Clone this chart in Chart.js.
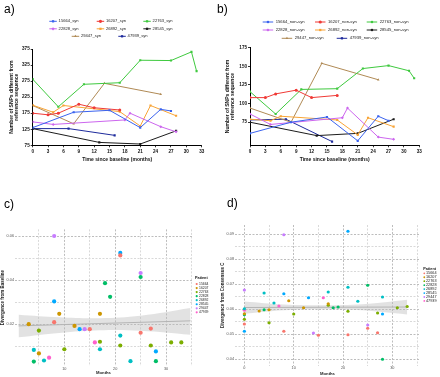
<!DOCTYPE html>
<html><head><meta charset="utf-8">
<script src="https://cdn.jsdelivr.net/npm/chart.js@4.4.1/dist/chart.umd.min.js"></script>
<style>
html,body{margin:0;padding:0;background:#fff;width:440px;height:377px;overflow:hidden;}
.p{position:absolute;}
.p canvas{display:block;}
.lab{position:absolute;font-family:"Liberation Sans",Arial,sans-serif;font-size:12px;line-height:12px;color:#000;}
</style></head>
<body>
<div class="p" style="left:0;top:0;width:220px;height:190px"><canvas id="ca" width="220" height="190" style="width:220px;height:190px"></canvas></div>
<div class="p" style="left:220px;top:0;width:220px;height:190px"><canvas id="cb" width="220" height="190" style="width:220px;height:190px"></canvas></div>
<div class="p" style="left:0;top:190px;width:220px;height:187px"><canvas id="cc" width="220" height="187" style="width:220px;height:187px"></canvas></div>
<div class="p" style="left:220px;top:190px;width:220px;height:187px"><canvas id="cd" width="220" height="187" style="width:220px;height:187px"></canvas></div>
<div class="lab" style="left:4px;top:3px">a)</div>
<div class="lab" style="left:217px;top:3px">b)</div>
<div class="lab" style="left:4px;top:198px">c)</div>
<div class="lab" style="left:227px;top:197px">d)</div>
<script>
const F = '"Liberation Sans", Arial, sans-serif';

// ---------------- data ----------------
const patients = ['15664','16207','22763','22828','26892','28545','29447','47939'];
const xTicksAB = [0,3,6,9,12,15,18,21,24,27,30,33];
const yTicksA = [75,125,175,225,275,325,375];
const yTicksB = [75,100,125,150,175];

// panel a: synonymous SNPs (months, counts)
const a15664m = [0,8,15,21,25,27],          a15664v = [130,178,184,130,187,182];
const a16207m = [0,3,5,9,12,17],            a16207v = [175,170,175,203,192,185];
const a22763m = [0,5,10,17,21,27,31,32],    a22763v = [281,195,265,270,340,339,366,306];
const a22828m = [0,4,18,19,25,28],          a22828v = [148,140,154,175,133,117];
const a26892m = [0,4,6,17,21,23,28],        a26892v = [200,178,199,180,135,199,167];
const a28545m = [0,13,21,28],               a28545v = [127,84,79,120];
const a29447m = [0,8,14,25],                a29447v = [199,142,268,234];
const a47939m = [0,7,16],                   a47939v = [127,127,106];

// panel b: non-synonymous SNPs
const b15664m = [0,8,15,21,25,27],          b15664v = [60,75,82,50,83,77];
const b16207m = [0,3,5,9,12,17],            b16207v = [108,108,113,118,108,111];
const b22763m = [0,5,10,17,22,27,31,32],    b22763v = [116,86,119,120,147,151,144,134];
const b22828m = [0,4,18,19,25,28],          b22828v = [86,72,81,94,55,52];
const b26892m = [0,4,6,17,21,23,28],        b26892v = [79,77,83,78,58,81,69];
const b28545m = [0,13,21,28],               b28545v = [75,57,60,79];
const b29447m = [0,8,14,25],                b29447v = [94,75,154,132];
const b47939m = [0,7,16],                   b47939v = [78,79,49];

// panel c: divergence from baseline
const c15664m = [8,15,21,25,27],        c15664v = [0.0209,0.0177,0.0512,0.0161,0.0180];
const c16207m = [3,5,9,12,17],          c16207v = [0.0200,0.0067,0.0247,0.0192,0.0247];
const c22763m = [5,10,17,21,27,31,33],  c22763v = [0.0171,0.0086,0.0120,0.0103,0.0103,0.0117,0.0117];
const c22828m = [4,18,19,25,28],        c22828v = [0.0030,0.0386,0.0324,0.0414,0.0032];
const c26892m = [4,6,17,21,23],         c26892v = [0.0083,0.0035,0.0086,0.0148,0.0032];
const c28545m = [8,13,21,28],           c28545v = [0.0303,0.0177,0.0523,0.0076];
const c29447m = [8,14,25],              c29447v = [0.0600,0.0177,0.0432];
const c47939m = [7,16],                 c47939v = [0.0048,0.0117];
const cFitX  = [1,34.8],                cFitY  = [0.0192,0.0215];
const cBandX = [1,9,17,25,34.8];
const cBandHi = [0.0243,0.0231,0.0227,0.0238,0.0273];
const cBandLo = [0.0140,0.0160,0.0172,0.0170,0.0152];

// panel d: divergence from consensus C
const d15664m = [0,8,15,21,25,27],        d15664v = [0.0540,0.0511,0.0495,0.0497,0.0523,0.0505];
const d16207m = [0,3,5,9,12,17],          d16207v = [0.0581,0.0592,0.0597,0.0633,0.0605,0.0621];
const d22763m = [0,5,10,17,21,27,31,33],  d22763v = [0.0559,0.0545,0.0580,0.0615,0.0591,0.0584,0.0605,0.0610];
const d22828m = [0,4,18,19,25,28],        d22828v = [0.0577,0.0597,0.0605,0.0608,0.0695,0.0399];
const d26892m = [0,4,6,17,21,23,28],      d26892v = [0.0601,0.0664,0.0624,0.0668,0.0687,0.0631,0.0648];
const d28545m = [0,8,13,21,28],           d28545v = [0.0511,0.0661,0.0645,0.0911,0.0580];
const d29447m = [0,8,14,25],              d29447v = [0.0676,0.0897,0.0504,0.0536];
const d47939m = [0,7,16],                 d47939v = [0.0595,0.0612,0.0645];
const dFitX  = [0,33],                    dFitY  = [0.0606,0.0608];
const dBandX = [0,8,16,24,33];
const dBandHi = [0.0630,0.0618,0.0615,0.0619,0.0637];
const dBandLo = [0.0581,0.0595,0.0599,0.0595,0.0578];

const cXTicks = [5,10,15,20,25,30,35],   cXMajor = [10,20,30];
const cYTicks = [0.01,0.02,0.03,0.04,0.05,0.06], cYMajor = [0.02,0.04,0.06];
const dXTicks = [0,5,10,15,20,25,30,35], dXMajor = [0,10,20,30];
const dYTicks = [0.04,0.045,0.05,0.055,0.06,0.065,0.07,0.075,0.08,0.085,0.09], dYMajor = [0.04,0.05,0.06,0.07,0.08,0.09];

// ---------------- styles ----------------
const abColors = ['#3b63ee','#f03a36','#3fc93f','#cc66ee','#f8a436','#1c1c1c','#b08a55','#1e2b9c'];
const abStyles = ['rect','circle','rect','rectRot','rect','rect','triangle','rect'];
const ggColors = ['#F8766D','#CD9600','#7CAE00','#00BE67','#00BFC4','#00A9FF','#C77CFF','#FF61CC'];

const pts = (m, v) => m.map((x, i) => ({x: x, y: v[i]}));

function lineSets(rows, suffix) {
  return rows.map((r, i) => ({
    label: patients[i] + suffix, data: pts(r[0], r[1]),
    borderColor: abColors[i], backgroundColor: abColors[i], borderWidth: 1,
    pointRadius: 1.5, pointStyle: abStyles[i], pointBorderWidth: 0, tension: 0, fill: false
  }));
}
function dotSets(rows, r) {
  return rows.map((row, i) => ({
    label: patients[i], data: pts(row[0], row[1]), showLine: false,
    pointRadius: r, pointBackgroundColor: ggColors[i], pointBorderWidth: 0, backgroundColor: ggColors[i], order: 0
  }));
}
function smoothSets(bx, lo, hi, fx, fy) {
  return [
    {label: 'lo', data: pts(bx, lo), showLine: true, borderWidth: 0, pointRadius: 0, tension: 0.4, fill: false, order: 10},
    {label: 'hi', data: pts(bx, hi), showLine: true, borderWidth: 0, pointRadius: 0, tension: 0.4, fill: '-1',
     backgroundColor: 'rgba(185,185,185,0.42)', order: 10},
    {label: 'fit', data: pts(fx, fy), showLine: true, borderColor: '#b4b4b4', borderWidth: 1, pointRadius: 0, fill: false, order: 5}
  ];
}

// legend drawn in the canvas for panels a and b
function lineLegend(pos, lw, gap, fs) {
  return { id: 'lineLegend', afterDraw(chart) {
    const ctx = chart.ctx; ctx.save();
    ctx.font = fs + 'px ' + F; ctx.textBaseline = 'middle'; ctx.textAlign = 'left';
    pos.forEach((p, i) => {
      const ds = chart.data.datasets[i];
      ctx.strokeStyle = ds.borderColor; ctx.fillStyle = ds.borderColor; ctx.lineWidth = 1;
      ctx.beginPath(); ctx.moveTo(p[0], p[1]); ctx.lineTo(p[0] + lw, p[1]); ctx.stroke();
      Chart.helpers.drawPoint(ctx, {pointStyle: ds.pointStyle, radius: 1.6, rotation: 0, borderWidth: 0}, p[0] + lw / 2, p[1]);
      ctx.fillStyle = '#222'; ctx.fillText(ds.label, p[0] + lw + gap, p[1]);
    });
    ctx.restore();
  }};
}
function dotLegend(o) {
  return { id: 'dotLegend', afterDraw(chart) {
    const ctx = chart.ctx; ctx.save();
    ctx.textBaseline = 'middle'; ctx.textAlign = 'left';
    ctx.fillStyle = '#111'; ctx.font = 'bold ' + o.tf + 'px ' + F;
    ctx.fillText('Patient', o.tx, o.ty);
    ctx.font = o.f + 'px ' + F;
    patients.forEach((p, i) => {
      const y = o.y0 + i * o.dy;
      ctx.fillStyle = ggColors[i]; ctx.beginPath(); ctx.arc(o.dx, y, o.r, 0, Math.PI * 2); ctx.fill();
      ctx.fillStyle = '#222'; ctx.fillText(p, o.lx, y);
    });
    ctx.restore();
  }};
}

function gpScales(o) {
  const tickFont = {family: F, size: 4.6, weight: 'bold'};
  return {
    x: { type: 'linear', min: 0, max: 33,
      afterBuildTicks: s => { s.ticks = xTicksAB.map(v => ({value: v})); },
      afterFit: s => { s.height = 20; },
      ticks: {font: tickFont, color: '#111', padding: 1.5, maxRotation: 0, autoSkip: false},
      grid: {drawOnChartArea: false, tickLength: 2, color: '#000', lineWidth: 0.8},
      border: {color: '#000', width: 1},
      title: {display: true, text: 'Time since baseline (months)', color: '#111',
        font: {family: F, size: 5, weight: 'bold', lineHeight: 1}, padding: {top: 0, bottom: o.xtb}} },
    y: { type: 'linear', min: o.ymin, max: o.ymax,
      afterBuildTicks: s => { s.ticks = o.yt.map(v => ({value: v})); },
      afterFit: s => { s.width = o.yw; },
      ticks: {font: tickFont, color: '#111', padding: 1, autoSkip: false},
      grid: {drawOnChartArea: false, tickLength: 2, color: '#000', lineWidth: 0.8},
      border: {color: '#000', width: 1},
      title: {display: true, text: ['Number of SNPs different from', 'reference sequence'], color: '#111',
        font: {family: F, size: 5, weight: 'bold', lineHeight: 1}, padding: {top: o.ytp, bottom: 0}} }
  };
}

function ggScales(o) {
  const gc = (maj) => (c) => (c.tick && maj.includes(c.tick.value)) ? '#bdbdbd' : '#d9d9d9';
  return {
    x: { type: 'linear', min: o.xmin, max: o.xmax,
      afterBuildTicks: s => { s.ticks = o.xt.map(v => ({value: v})); },
      afterFit: s => { s.height = o.xh; },
      ticks: {font: {family: F, size: 3.8}, color: '#555', padding: o.xtp, maxRotation: 0, autoSkip: false,
        callback: v => o.xm.includes(v) ? String(v) : ''},
      grid: {drawTicks: false, color: gc(o.xm), lineWidth: 1},
      border: {display: false, dash: [2, 1.5]},
      title: {display: true, text: 'Months', color: '#222', font: {family: F, size: 4.2, weight: 'bold', lineHeight: 1},
        padding: {top: 0, bottom: o.xtb}} },
    y: { type: 'linear', min: o.ymin, max: o.ymax,
      afterBuildTicks: s => { s.ticks = o.yt.map(v => ({value: v})); },
      afterFit: s => { s.width = 15; },
      ticks: {font: {family: F, size: 3.8}, color: '#555', padding: 1, autoSkip: false,
        callback: v => o.ym.includes(v) ? v.toFixed(2) : ''},
      grid: {drawTicks: false, color: gc(o.ym), lineWidth: 1},
      border: {display: false, dash: [2, 1.5]},
      title: {display: true, text: o.ytitle, color: '#222', font: {family: F, size: 4.5, weight: 'bold', lineHeight: 1},
        padding: {top: 1, bottom: 0}} }
  };
}

const base = {responsive: false, animation: false, devicePixelRatio: 1,
  plugins: {legend: {display: false}, tooltip: {enabled: false}}};

// ---- panel a ----
new Chart(document.getElementById('ca'), {
  type: 'line',
  data: {datasets: lineSets([[a15664m,a15664v],[a16207m,a16207v],[a22763m,a22763v],[a22828m,a22828v],
    [a26892m,a26892v],[a28545m,a28545v],[a29447m,a29447v],[a47939m,a47939v]], '_syn')},
  options: Object.assign({}, base, {
    layout: {padding: {left: 0, right: 18.3, top: 49, bottom: 24.7}},
    scales: gpScales({ymin: 75, ymax: 375, yt: yTicksA, yw: 32.7, ytp: 9.2, xtb: 2.8})
  }),
  plugins: [lineLegend([[49.3,21.3],[96.7,21.3],[143.3,21.3],[49.3,28.8],[96.7,28.8],[143.3,28.8],[71.7,36.3],[118.3,36.3]], 7.5, 1.8, 4.1)]
});

// ---- panel b ----
new Chart(document.getElementById('cb'), {
  type: 'line',
  data: {datasets: lineSets([[b15664m,b15664v],[b16207m,b16207v],[b22763m,b22763v],[b22828m,b22828v],
    [b26892m,b26892v],[b28545m,b28545v],[b29447m,b29447v],[b47939m,b47939v]], '_non-syn')},
  options: Object.assign({}, base, {
    layout: {padding: {left: 0, right: 20.7, top: 47.7, bottom: 24.7}},
    scales: gpScales({ymin: 44, ymax: 175, yt: yTicksB, yw: 30, ytp: 4.8, xtb: 3.5})
  }),
  plugins: [lineLegend([[42.7,22],[95,22],[146.7,22],[42.7,30],[95,30],[146.7,30],[61.7,38.3],[116.7,38.3]], 10.5, 2.5, 4.2)]
});

// ---- panel c ----
new Chart(document.getElementById('cc'), {
  type: 'line',
  data: {datasets: dotSets([[c15664m,c15664v],[c16207m,c16207v],[c22763m,c22763v],[c22828m,c22828v],
    [c26892m,c26892v],[c28545m,c28545v],[c29447m,c29447v],[c47939m,c47939v]], 2.1)
    .concat(smoothSets(cBandX, cBandLo, cBandHi, cFitX, cFitY))},
  options: Object.assign({}, base, {
    layout: {padding: {left: 0, right: 28, top: 39.4, bottom: 0}},
    scales: ggScales({xmin: 0.3, xmax: 35.1, xt: cXTicks, xm: cXMajor, ymin: 0.001, ymax: 0.063, yt: cYTicks, ym: cYMajor,
      xh: 11, xtp: 0.7, xtb: 1.6, ytitle: 'Divergence from Baseline'})
  }),
  plugins: [dotLegend({tx: 195, ty: 88.3, tf: 3.8, f: 3.4, dx: 196.7, lx: 199, y0: 94, dy: 4.05, r: 1.1})]
});

// ---- panel d ----
new Chart(document.getElementById('cd'), {
  type: 'line',
  data: {datasets: dotSets([[d15664m,d15664v],[d16207m,d16207v],[d22763m,d22763v],[d22828m,d22828v],
    [d26892m,d26892v],[d28545m,d28545v],[d29447m,d29447v],[d47939m,d47939v]], 1.6)
    .concat(smoothSets(dBandX, dBandLo, dBandHi, dFitX, dFitY))},
  options: Object.assign({}, base, {
    layout: {padding: {left: 0, right: 20, top: 35, bottom: 0}},
    scales: ggScales({xmin: -1.9, xmax: 35.6, xt: dXTicks, xm: dXMajor, ymin: 0.0374, ymax: 0.0936, yt: dYTicks, ym: dYMajor,
      xh: 11.5, xtp: 0, xtb: 0.9, ytitle: 'Divergence from Consensus C'})
  }),
  plugins: [dotLegend({tx: 203.3, ty: 79, tf: 3.8, f: 3.8, dx: 204.3, lx: 206, y0: 83.3, dy: 3.95, r: 0.9})]
});
</script>
</body></html>
